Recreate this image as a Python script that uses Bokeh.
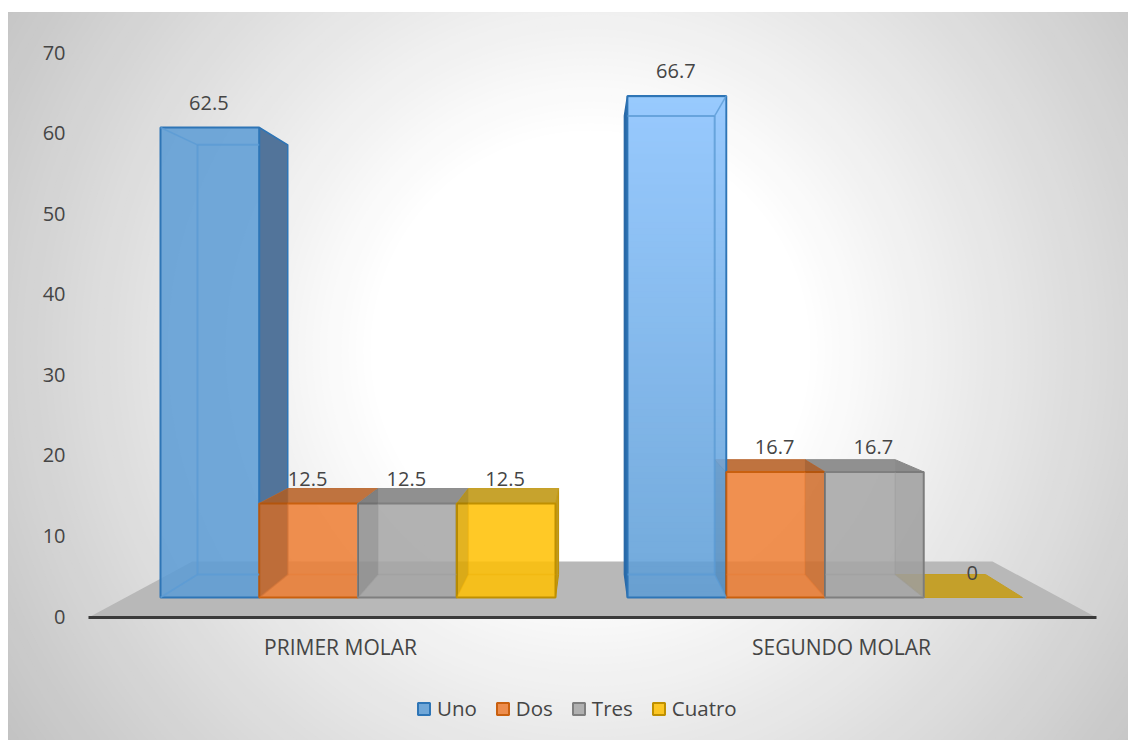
from bokeh.plotting import figure
from bokeh.models import Range1d, FixedTicker, Legend, LegendItem, ColumnDataSource
from bokeh.core.properties import value
from bokeh.embed import file_html
from bokeh.resources import INLINE
import numpy as np

# ---- data ----
categories = ["PRIMER MOLAR", "SEGUNDO MOLAR"]
series_names = ["Uno", "Dos", "Tres", "Cuatro"]
uno = [62.5, 66.7]
dos = [12.5, 16.7]
tres = [12.5, 16.7]
cuatro = [12.5, 0]
y_ticks = [0, 10, 20, 30, 40, 50, 60, 70]

# ---- styles ----
FACE = ["#5B9BD5", "#ED7D31", "#A5A5A5", "#FFC000"]
EDGE = ["#2E75B6", "#C9600F", "#7F7F7F", "#BF9000"]
INNER = ["#5B9BD5", "#E8782E", "#999999", "#EDB000"]
TOP = ["#5B9BD5", "#BC6C35", "#8A8A8A", "#C49E22"]
TXT = "#454545"
FONT = "Open Sans"
FS = "20px"

# ---- layout ----
W, H = 1128, 740
PX0, PY_TOP, PY_BOT = 8, 12, 740
AX_ZERO, AX_SCALE = 616, 564 / 70      # value axis plane
BAR_ZERO, BAR_SCALE = 597, 7.52        # front plane of the bars
VX, VY, K = 591, 329, 0.0858           # vanishing point and depth
VP = (BAR_ZERO - VY) / BAR_SCALE
GROUP_START = [160, 627]
BW = 98.75
CAT_TICKS = [340, 841]
AXIS_V = -0.12


def bx(x):
    return x + (VX - x) * K


def bv(v):
    return v + (VP - v) * K


p = figure(width=W, height=H, output_backend="svg", toolbar_location=None,
           x_range=Range1d(PX0, W),
           y_range=Range1d((AX_ZERO - PY_BOT) / AX_SCALE, (AX_ZERO - PY_TOP) / AX_SCALE),
           min_border=0, min_border_top=PY_TOP, min_border_left=PX0, min_border_right=0,
           min_border_bottom=0, outline_line_color="#C2C2C2", background_fill_color="#C2C2C2",
           border_fill_color="white")
p.extra_y_ranges = {"bars": Range1d((BAR_ZERO - PY_BOT) / BAR_SCALE, (BAR_ZERO - PY_TOP) / BAR_SCALE)}
p.grid.visible = False

# backdrop: radial gradient, white inside 220px, falling to grey at the corners
cx, cy = 590, (AX_ZERO - 350) / AX_SCALE
for d in np.linspace(720, 220, 70):
    g = int(round(255 - 0.125 * (d - 220)))
    p.ellipse(cx, cy, width=2 * d, height=2 * d / AX_SCALE,
              fill_color=(g, g, g), line_color=None)

# floor
FLOOR_BACK = 6.83
p.patch([88, 1096, 992, 192], [AXIS_V, AXIS_V, FLOOR_BACK, FLOOR_BACK], fill_color="#B8B8B8", line_color=None)


def poly(xs, vs, fill=None, alpha=1.0, line=None, lw=1.0, la=1.0):
    p.patch(xs, vs, y_range_name="bars", fill_color=fill, fill_alpha=alpha if fill else 0,
            line_color=line, line_width=lw, line_alpha=la)


def seg(xs, vs, color, lw=1.5, la=0.85):
    p.line(xs, vs, y_range_name="bars", line_color=color, line_width=lw, line_alpha=la)


vals = [uno, dos, tres, cuatro]
order = [(0, s) for s in range(4)] + [(1, s) for s in (3, 2, 1, 0)]

# far sides and top faces, painted back to front
for g, s in order:
    v = vals[s][g]
    x0 = GROUP_START[g] + s * BW
    x1 = x0 + BW
    if s == 0 and g == 0:
        poly([x1, bx(x1), bx(x1), x1], [v, bv(v), bv(0), 0], "#52749A", 1, EDGE[0], 1.5)
    if s == 0 and g == 1:
        poly([x0, bx(x0), bx(x0), x0], [v, bv(v), bv(0), 0], "#2A6AA8", 1, "#2A6AA8", 1.5)
    if s == 3 and g == 0:
        poly([x1, bx(x1), bx(x1), x1], [v, bv(v), bv(0), 0], "#C09A1F", 1, "#BF9000", 1)
    if s > 0:
        poly([x0, x1, bx(x1), bx(x0)], [v, v, bv(v), bv(v)], TOP[s], 0.95, TOP[s], 1)

# front faces, one renderer per series
fronts = []
for s in range(4):
    keep = [g for g in range(2) if vals[s][g] > 0]
    left = [GROUP_START[g] + s * BW for g in keep]
    src = ColumnDataSource(dict(left=left, right=[l + BW for l in left],
                                top=[vals[s][g] for g in keep], bottom=[0] * len(keep)))
    fronts.append(p.quad(left="left", right="right", top="top", bottom="bottom", source=src,
                         y_range_name="bars", fill_color=FACE[s], fill_alpha=0.85,
                         line_color=EDGE[s], line_width=2))

# brighter upper part of the second "Uno" bar
rows = 80
grad = np.zeros((rows, 1), dtype=np.uint32)
view = grad.view(dtype=np.uint8).reshape((rows, 1, 4))
for i in range(rows):
    view[i, 0] = (154, 203, 255, int(255 * 0.95 * i / (rows - 1)))
p.image_rgba(image=[grad], x=[GROUP_START[1] + 1], y=[0], dw=[BW - 2], dh=[uno[1] - 0.2], y_range_name="bars")

# see-through side faces inside the front faces
for s in (1, 2, 3):
    v = vals[s][0]
    x0 = GROUP_START[0] + s * BW
    poly([x0, bx(x0), bx(x0), x0], [v, bv(v), bv(0), 0], "black", 0.11)
for s in (1, 2):
    v = vals[s][1]
    x1 = GROUP_START[1] + (s + 1) * BW
    poly([x1, bx(x1), bx(x1), x1], [v, bv(v), bv(0), 0], "black", 0.11 if s == 1 else 0.03)
v = vals[1][1]
x0 = GROUP_START[1] + BW
poly([x0, bx(x0), bx(x0), x0], [v, bv(v), bv(0), 0], "#1A4060", 0.16)

# back edges, only where they lie inside the bar's own front face
for g, s in order:
    v = vals[s][g]
    if v == 0:
        continue
    x0 = GROUP_START[g] + s * BW
    x1 = x0 + BW
    bl, br = max(bx(x0), x0), min(bx(x1), x1)
    c = INNER[s]
    la = 0.8 if s == 0 else 0.35
    lw = 2 if s == 0 else 1.5
    seg([bl, br], [bv(0), bv(0)], c, lw, la)
    if bx(x0) > x0:
        seg([bx(x0), bx(x0)], [min(v, bv(v)), bv(0)], c, lw, la)
        seg([x0, bx(x0)], [0, bv(0)], c, 1.5, la)
    if bx(x1) < x1:
        seg([bx(x1), bx(x1)], [min(v, bv(v)), bv(0)], c, lw, la)
        seg([x1, bx(x1)], [0, bv(0)], c, 1.5, la)
    if s == 0:
        seg([bl, br], [bv(v), bv(v)], c, lw, la)
        if bx(x0) > x0:
            seg([x0, bx(x0)], [v, bv(v)], c, 1.5, la)
        if bx(x1) < x1:
            seg([x1, bx(x1)], [v, bv(v)], c, 1.5, la)

# data labels
lab_x, lab_y, lab_t = [], [], []
for g in range(2):
    for s in range(4):
        lab_x.append(GROUP_START[g] + (s + 0.5) * BW)
        lab_y.append(vals[s][g])
        lab_t.append(f"{vals[s][g]:g}")
p.text(lab_x, lab_y, text=lab_t, y_range_name="bars", text_font=value(FONT), text_font_size=FS,
       text_color=TXT, text_align="center", text_baseline="middle", y_offset=-25, x_offset=-1)

# axes
p.yaxis.fixed_location = 71
p.yaxis.ticker = FixedTicker(ticks=y_ticks)
p.yaxis.axis_line_color = None
p.yaxis.major_tick_line_color = None
p.yaxis.minor_tick_line_color = None
p.yaxis.major_label_standoff = 0
p.yaxis.major_label_text_font = FONT
p.yaxis.major_label_text_font_size = FS
p.yaxis.major_label_text_color = TXT

p.xaxis.fixed_location = AXIS_V
p.xaxis.ticker = FixedTicker(ticks=CAT_TICKS)
p.xaxis.major_label_overrides = {CAT_TICKS[i]: categories[i] for i in range(2)}
p.xaxis.bounds = (88, 1096)
p.xaxis.axis_line_color = "#3A3A3A"
p.xaxis.axis_line_width = 3
p.xaxis.major_tick_line_color = None
p.xaxis.minor_tick_line_color = None
p.xaxis.major_label_standoff = 10
p.xaxis.major_label_text_font = FONT
p.xaxis.major_label_text_font_size = "21px"
p.xaxis.major_label_text_color = TXT

legend = Legend(items=[LegendItem(label=series_names[s], renderers=[fronts[s]], index=0) for s in range(4)],
                orientation="horizontal", location=(408, 18), glyph_width=15, glyph_height=15,
                label_standoff=6, spacing=18, padding=0, margin=0, border_line_color=None,
                background_fill_alpha=0, label_text_font=FONT, label_text_font_size="20.5px",
                label_text_color=TXT)
p.add_layout(legend, "center")

open("out.html", "w").write(file_html(p, INLINE))
